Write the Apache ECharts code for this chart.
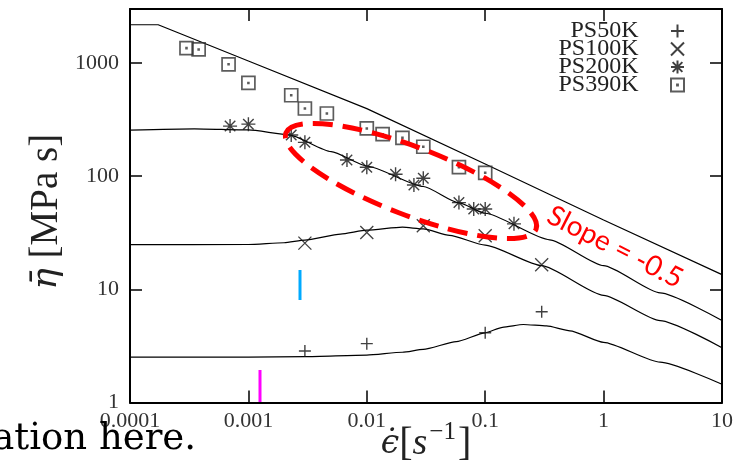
<!DOCTYPE html>
<html><head><meta charset="utf-8">
<script src="https://cdn.jsdelivr.net/npm/echarts@6/dist/echarts.min.js"></script>
<style>html,body{margin:0;padding:0;background:#fff}#chart{width:741px;height:469px}</style>
</head><body><div id="chart"></div>
<script>
const xMajorTicks = [1e-4, 1e-3, 1e-2, 1e-1, 1, 10];
const xTickLabels = ['0.0001', '0.001', '0.01', '0.1', '1', '10'];
const yMajorTicks = [1, 10, 100, 1000];
const yTickLabels = ['1', '10', '100', '1000'];
const minorSteps = [2, 3, 4, 5, 6, 7, 8, 9];
const X_MIN = 1e-4, X_MAX = 10, Y_MIN = 1, Y_MAX = 3000;

const seriesNames = ['PS50K', 'PS100K', 'PS200K', 'PS390K'];
const ps50kX = [0.003, 0.01, 0.1, 0.3];
const ps50kY = [2.85, 3.31, 4.13, 6.33];
const ps100kX = [0.003, 0.01, 0.03, 0.1, 0.3];
const ps100kY = [25.6, 31.8, 36.4, 29.7, 16.5];
const ps200kX = [0.0007, 0.001, 0.0023, 0.003, 0.0068, 0.01, 0.0175, 0.025, 0.03, 0.06, 0.08, 0.1, 0.175];
const ps200kY = [277, 288, 231, 199, 139, 120, 104, 83.6, 95.8, 58.4, 51.2, 51.2, 37.9];
const ps390kX = [0.0003, 0.00038, 0.00068, 0.001, 0.0023, 0.003, 0.0046, 0.01, 0.0136, 0.02, 0.03, 0.06, 0.1];
const ps390kY = [1354, 1318, 973, 666, 519, 396, 358, 264, 235, 218, 182, 120, 107];

const fit390X = [1e-4, 1.73e-4, 1e-3, 0.01, 0.1, 1, 10];
const fit390Y = [2177, 2177, 1040, 395, 128, 41, 13.5];
const fit200X = [1e-4, 3.5e-4, 1e-3, 0.0022, 0.005, 0.01, 0.03, 0.06, 0.1, 0.35, 1, 3, 10];
const fit200Y = [255, 262, 256, 232, 165, 123, 81, 58, 47, 27.4, 16.2, 9.3, 5.3];
const fit100X = [1e-4, 1e-3, 0.002, 0.003, 0.006, 0.01, 0.02, 0.03, 0.05, 0.1, 0.3, 1, 3, 10];
const fit100Y = [24.8, 24.9, 25.8, 27.2, 30.8, 33.3, 35.4, 34.2, 30.0, 24.6, 16.2, 8.85, 5.3, 3.05];
const fit50X = [1e-4, 1e-3, 0.003, 0.01, 0.02, 0.03, 0.057, 0.1, 0.14, 0.21, 0.33, 0.52, 1, 3, 10];
const fit50Y = [2.52, 2.52, 2.54, 2.62, 2.78, 2.95, 3.45, 4.13, 4.62, 4.89, 4.75, 4.3, 3.4, 2.27, 1.45];

(function () {
const zip = (xs, ys) => xs.map((x, i) => [x, ys[i]]);
const xMinorTicks = [];
xMajorTicks.slice(0, -1).forEach(d => minorSteps.forEach(m => xMinorTicks.push(d * m)));
const yMinorTicks = [];
yMajorTicks.forEach(d => minorSteps.forEach(m => { if (d * m < Y_MAX) yMinorTicks.push(d * m); }));

function labelFor(v, ticks, labels) {
  for (let i = 0; i < ticks.length; i++) {
    if (Math.abs(v - ticks[i]) / ticks[i] < 1e-6) return labels[i];
  }
  return '';
}
const SYM = {
  plus: 'path://M6,0V12M0,6H12',
  cross: 'path://M0,0L12,12M12,0L0,12',
  star: 'path://M6,0L6,12M0,6L12,6M1.5,1.5L10.5,10.5M10.5,1.5L1.5,10.5',
  box: 'path://M0,0H12V12H0Z M5.6,5.6H6.4V6.4H5.6Z'
};
const serifFont = 'Liberation Serif';

function scatterSeries(name, xs, ys, symbol, size, bw, bc) {
  return { name, type: 'scatter', data: zip(xs, ys), symbol, symbolSize: size, z: 4,
    itemStyle: { color: 'rgba(0,0,0,0)', borderColor: bc, borderWidth: bw } };
}
function fitSeries(xs, ys, smooth) {
  return { type: 'line', data: zip(xs, ys), showSymbol: false, symbol: 'none', smooth: smooth,
    smoothMonotone: 'x', silent: true, z: 3, lineStyle: { color: '#000', width: 1.2 } };
}
function mirrorAxis(min, max, position) {
  return { type: 'log', logBase: 10, min, max, position,
    axisLine: { show: true, onZero: false, lineStyle: { color: '#000', width: 2 } },
    axisTick: { show: true, inside: true, length: 12, lineStyle: { color: '#000', width: 1.5 } },
    axisLabel: { show: false }, splitLine: { show: false } };
}

const chart = echarts.init(document.getElementById('chart'));
chart.setOption({
  animation: false,
  grid: { left: 130, top: 9, width: 592, height: 394 },
  xAxis: [{
    type: 'log', min: X_MIN, max: X_MAX, logBase: 10, position: 'bottom',
    axisLine: { show: true, onZero: false, lineStyle: { color: '#000', width: 2 } },
    axisTick: { show: true, inside: true, length: 12, lineStyle: { color: '#000', width: 1.5 } },
    splitLine: { show: false },
    axisLabel: { margin: 8, color: '#333', fontFamily: serifFont, fontSize: 22,
                 formatter: v => labelFor(v, xMajorTicks, xTickLabels) },
    name: '{e|ϵ̇}{b|[}{s|s}{p|−1}{b|]}', nameLocation: 'middle', nameGap: 17, nameMoveOverlap: false,
    nameTextStyle: { color: '#222', fontFamily: serifFont, fontSize: 36,
      rich: {
        e: { fontFamily: 'DejaVu Serif', fontStyle: 'italic', fontSize: 33, color: '#222' },
        b: { fontFamily: serifFont, fontSize: 40, color: '#222' },
        s: { fontFamily: serifFont, fontStyle: 'italic', fontSize: 38, color: '#222' },
        p: { fontFamily: serifFont, fontSize: 25, color: '#222', padding: [0, 2, 24, 2] }
      } }
  }, mirrorAxis(X_MIN, X_MAX, 'top')],
  yAxis: [{
    type: 'log', min: Y_MIN, max: Y_MAX, logBase: 10, position: 'left',
    axisLine: { show: true, onZero: false, lineStyle: { color: '#000', width: 2 } },
    axisTick: { show: true, inside: true, length: 12, lineStyle: { color: '#000', width: 1.5 } },
    splitLine: { show: false },
    axisLabel: { margin: 11, color: '#333', fontFamily: serifFont, fontSize: 22,
                 formatter: v => labelFor(v, yMajorTicks, yTickLabels) },
    name: '{i|η̄} [MPa s]', nameLocation: 'middle', nameGap: 64, nameMoveOverlap: false,
    nameTextStyle: { color: '#222', fontFamily: serifFont, fontSize: 39, padding: [0, 12, 0, 0],
      rich: { i: { fontFamily: 'DejaVu Serif', fontStyle: 'italic', fontSize: 36, color: '#222' } } }
  }, mirrorAxis(Y_MIN, Y_MAX, 'right')],
  legend: {
    data: seriesNames, orient: 'vertical', align: 'right', right: 56, top: 19, padding: 0,
    itemWidth: 68, itemHeight: 13, itemGap: -6, selectedMode: false,
    textStyle: { fontFamily: serifFont, fontSize: 24, color: '#222' }
  },
  series: [
    fitSeries(fit390X, fit390Y, false),
    fitSeries(fit200X, fit200Y, 0.2),
    fitSeries(fit100X, fit100Y, 0.2),
    fitSeries(fit50X, fit50Y, 0.2),
    scatterSeries(seriesNames[0], ps50kX, ps50kY, SYM.plus, 12, 1.4, '#111'),
    scatterSeries(seriesNames[1], ps100kX, ps100kY, SYM.cross, 13, 1.3, '#111'),
    scatterSeries(seriesNames[2], ps200kX, ps200kY, SYM.star, 14, 1.4, '#111'),
    scatterSeries(seriesNames[3], ps390kX, ps390kY, SYM.box, 13, 1.7, '#333')
  ],
  graphic: [
    { type: 'ellipse', x: 411, y: 181, rotation: -0.367, z: 10,
      shape: { cx: 0, cy: 0, rx: 134, ry: 34 },
      style: { fill: 'none', stroke: '#ff0000', lineWidth: 5, lineDash: [20, 10] } },
    { type: 'text', x: 615, y: 247, rotation: -0.47, z: 10,
      style: { text: 'Slope = -0.5', fontFamily: 'Lato', fontSize: 28, fill: '#ff0000',
               align: 'center', verticalAlign: 'middle' } },
    { type: 'text', x: 196, y: 439, z: 20,
      style: { text: 'ation here.', fontFamily: 'DejaVu Serif', fontSize: 37, fill: '#000',
               align: 'right', verticalAlign: 'middle' } },
    // diagnostics
    { type: 'line', shape: { x1: 260, y1: 403, x2: 260, y2: 370 }, style: { stroke: '#f0f', lineWidth: 3 } },
    { type: 'line', shape: { x1: 300, y1: 300, x2: 300, y2: 270 }, style: { stroke: '#0af', lineWidth: 3 } }
  ]
});
})();
</script></body></html>
